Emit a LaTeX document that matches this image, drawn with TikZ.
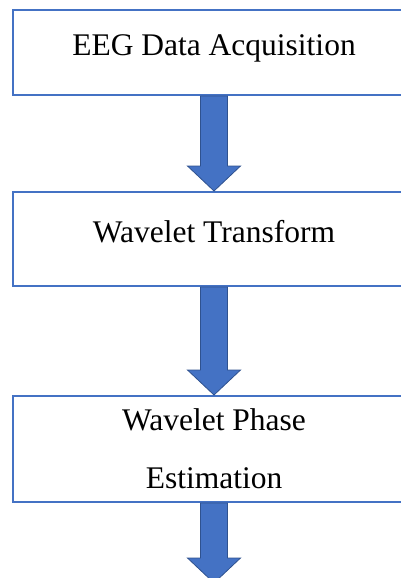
\documentclass[tikz,border=0pt]{standalone}
\usepackage{fontspec}
\setmainfont{Liberation Serif}
\usetikzlibrary{positioning,calc}
\definecolor{boxblue}{HTML}{4472C4}
\definecolor{arrowedge}{HTML}{2F528F}

\begin{document}
\begin{tikzpicture}[
    x=1pt, y=-1pt,
    node distance=95pt,
    box/.style={rectangle, draw=boxblue, line width=2pt, minimum width=402pt, minimum height=85pt, font=\fontsize{31.5}{58}\selectfont, align=center},
    oneline/.style={text height=0.85em, text depth=0.22em},
    blockarrow/.style={fill=boxblue, draw=arrowedge, line width=0.8pt, line join=miter}
]
    \useasboundingbox (0,0) rectangle (401,578);
    \clip (0,0) rectangle (401,578);

    \node[box, oneline] (acq) at (214,52.5) {EEG Data Acquisition};
    \node[box, oneline, below=of acq, minimum height=94pt] (wt) {Wavelet Transform};
    \node[box, below=108pt of wt, minimum height=106pt] (wpe) {Wavelet Phase\\Estimation};
    \coordinate[below=80pt of wpe] (out);

    \foreach \from/\to in {acq.south/wt.north, wt.south/wpe.north, wpe.south/out}
        \filldraw[blockarrow] ($(\from)+(-13.5,0)$) -- ($(\to)+(-13.5,-25)$) -- ($(\to)+(-26.5,-25)$) -- (\to)
            -- ($(\to)+(26.5,-25)$) -- ($(\to)+(13.5,-25)$) -- ($(\from)+(13.5,0)$) -- cycle;
\end{tikzpicture}
\end{document}
